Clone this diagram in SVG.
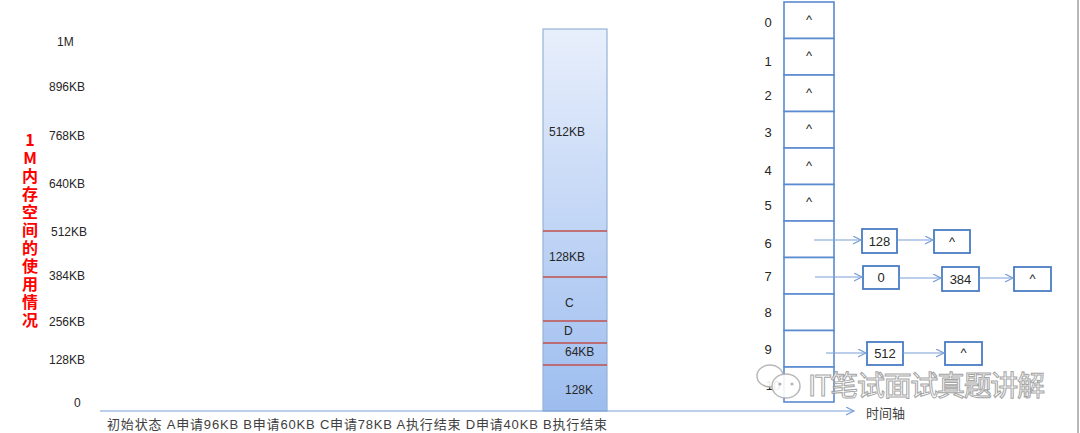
<svg xmlns="http://www.w3.org/2000/svg" width="1080" height="433" viewBox="0 0 1080 433">
<style>
.lab{font-family:"Liberation Sans","Noto Sans CJK SC",sans-serif;font-size:12px;fill:#262626}
.red{font-family:"Noto Sans CJK SC","Liberation Sans",sans-serif;font-size:16px;font-weight:bold;fill:#ff0000;writing-mode:vertical-rl;text-orientation:upright;letter-spacing:2px}
.cell{fill:#ffffff;stroke:#5a8ad0;stroke-width:1.6}
.box{fill:#ffffff;stroke:#4a7cc4;stroke-width:1.8}
.ctr{font-family:"Liberation Sans",sans-serif;font-size:13px;fill:#262626;text-anchor:middle}
.red-line{stroke:#c0504d;stroke-width:1.5}
.arr{stroke:#7aa0d6;stroke-width:1.2;fill:none;marker-end:url(#ah)}
.bot{font-family:"Liberation Sans","Noto Sans CJK SC",sans-serif;font-size:13px;fill:#404040}
</style>
<defs>
<linearGradient id="g" x1="0" y1="0" x2="0" y2="1">
<stop offset="0" stop-color="#e8effc"/>
<stop offset="1" stop-color="#9dbdef"/>
</linearGradient>
<marker id="ah" markerWidth="10" markerHeight="10" refX="8" refY="4" orient="auto" markerUnits="userSpaceOnUse">
<path d="M0,0 L8,4 L0,8" fill="none" stroke="#7aa0d6" stroke-width="1.2"/>
</marker>
</defs>
<rect width="1080" height="433" fill="#ffffff"/>
<line x1="1078" y1="0" x2="1078" y2="433" stroke="#a0a0a0" stroke-width="1.5"/>

<g id="y-axis-labels">
<text class="lab" x="57" y="46">1M</text>
<text class="lab" x="49" y="91">896KB</text>
<text class="lab" x="49" y="140">768KB</text>
<text class="lab" x="49" y="188">640KB</text>
<text class="lab" x="51" y="236">512KB</text>
<text class="lab" x="49" y="280">384KB</text>
<text class="lab" x="49" y="326">256KB</text>
<text class="lab" x="49" y="364">128KB</text>
<text class="lab" x="74" y="407">0</text>
</g>

<g id="title-vertical">
<text class="red" x="30" y="132">1M内存空间的使用情况</text>
</g>

<g id="memory-bar">
<rect x="543" y="29" width="64" height="382" fill="url(#g)" stroke="#95b3d7" stroke-width="1.2"/>
<line class="red-line" x1="543" y1="231" x2="607" y2="231"/>
<line class="red-line" x1="543" y1="277" x2="607" y2="277"/>
<line class="red-line" x1="543" y1="321" x2="607" y2="321"/>
<line class="red-line" x1="543" y1="343" x2="607" y2="343"/>
<line class="red-line" x1="543" y1="365" x2="607" y2="365"/>
<text class="lab" x="549" y="136">512KB</text>
<text class="lab" x="549" y="261">128KB</text>
<text class="lab" x="565" y="307">C</text>
<text class="lab" x="564" y="335">D</text>
<text class="lab" x="565" y="356">64KB</text>
<text class="lab" x="565" y="394">128K</text>
</g>

<g id="hash-table">
<rect class="cell" x="784" y="2" width="50" height="36.5"/>
<rect class="cell" x="784" y="38.5" width="50" height="36.5"/>
<rect class="cell" x="784" y="75" width="50" height="36.5"/>
<rect class="cell" x="784" y="111.5" width="50" height="36.5"/>
<rect class="cell" x="784" y="148" width="50" height="36.5"/>
<rect class="cell" x="784" y="184.5" width="50" height="36.5"/>
<rect class="cell" x="784" y="221" width="50" height="36.5"/>
<rect class="cell" x="784" y="257.5" width="50" height="36.5"/>
<rect class="cell" x="784" y="294" width="50" height="36.5"/>
<rect class="cell" x="784" y="330.5" width="50" height="36.5"/>
<rect class="cell" x="784" y="367" width="50" height="35"/>
<text class="ctr" x="809" y="24">^</text>
<text class="ctr" x="809" y="60">^</text>
<text class="ctr" x="809" y="97">^</text>
<text class="ctr" x="809" y="133">^</text>
<text class="ctr" x="809" y="170">^</text>
<text class="ctr" x="809" y="206">^</text>
<text class="ctr" x="768" y="27">0</text>
<text class="ctr" x="768" y="66">1</text>
<text class="ctr" x="768" y="100">2</text>
<text class="ctr" x="768" y="137">3</text>
<text class="ctr" x="768" y="175">4</text>
<text class="ctr" x="768" y="210">5</text>
<text class="ctr" x="768" y="248">6</text>
<text class="ctr" x="768" y="281">7</text>
<text class="ctr" x="768" y="317">8</text>
<text class="ctr" x="768" y="354">9</text>
<text class="ctr" x="773" y="390">10</text>
</g>

<g id="node-6-128"><rect class="box" x="862" y="229" width="35" height="24"/><text class="ctr" x="879.5" y="246">128</text></g>
<g id="node-6-null"><rect class="box" x="934" y="230" width="36" height="23"/><text class="ctr" x="952" y="246">^</text></g>
<g id="node-7-0"><rect class="box" x="863" y="266" width="36" height="23"/><text class="ctr" x="881" y="282">0</text></g>
<g id="node-7-384"><rect class="box" x="942" y="267" width="37" height="24"/><text class="ctr" x="960.5" y="284">384</text></g>
<g id="node-7-null"><rect class="box" x="1014" y="267" width="37" height="24"/><text class="ctr" x="1032.5" y="283">^</text></g>
<g id="node-9-512"><rect class="box" x="867" y="342" width="36" height="23"/><text class="ctr" x="885" y="358">512</text></g>
<g id="node-9-null"><rect class="box" x="945" y="342" width="37" height="23"/><text class="ctr" x="963.5" y="357">^</text></g>

<g id="connectors">
<line class="arr" x1="814" y1="240" x2="861" y2="240"/>
<line class="arr" x1="897" y1="240" x2="933" y2="240"/>
<line class="arr" x1="815" y1="277" x2="862" y2="277"/>
<line class="arr" x1="899" y1="278" x2="941" y2="278"/>
<line class="arr" x1="979" y1="278" x2="1013" y2="278"/>
<line class="arr" x1="826" y1="353" x2="866" y2="353"/>
<line class="arr" x1="903" y1="353" x2="944" y2="353"/>
<line class="arr" x1="100" y1="411" x2="854" y2="411"/>
</g>

<g id="axis-labels">
<text class="bot" x="107" y="429" textLength="500" lengthAdjust="spacing">初始状态 A申请96KB  B申请60KB  C申请78KB  A执行结束  D申请40KB  B执行结束</text>
<text class="bot" x="866" y="418">时间轴</text>
</g>

<g id="watermark" opacity="0.9">
<ellipse cx="770" cy="376" rx="13" ry="11" fill="#ffffff" stroke="#b0b0b0" stroke-width="1.5"/>
<ellipse cx="786" cy="386" rx="14" ry="12" fill="#ffffff" stroke="#b0b0b0" stroke-width="1.5"/>
<circle cx="780" cy="384" r="1.6" fill="#b0b0b0"/>
<circle cx="792" cy="384" r="1.6" fill="#b0b0b0"/>
<text x="808" y="396" font-family="Noto Sans CJK SC, sans-serif" font-size="28" fill="#ffffff" stroke="#9a9a9a" stroke-width="1" textLength="237">IT笔试面试真题讲解</text>
</g>
</svg>
